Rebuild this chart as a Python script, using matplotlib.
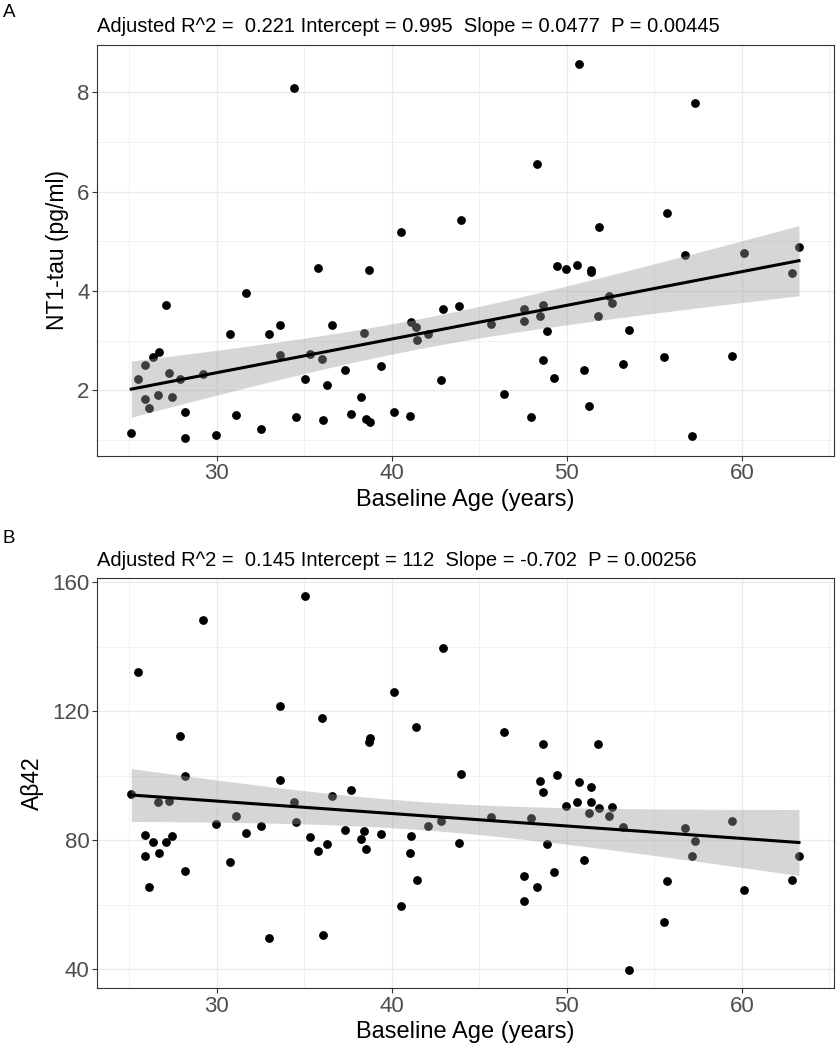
import numpy as np
import matplotlib
matplotlib.use("Agg")
import matplotlib.pyplot as plt
from matplotlib.ticker import MultipleLocator

plt.rcParams["font.family"] = ["Liberation Sans", "DejaVu Sans"]

# baseline age (years), same subjects in both panels
age = [25.12, 25.50, 25.88, 25.90, 26.11, 26.38, 26.66, 26.70, 27.13, 27.29,
       27.46, 27.91, 28.18, 28.18, 29.24, 29.98, 30.76, 31.12, 31.69, 32.56,
       32.98, 33.61, 33.61, 34.42, 34.54, 35.03, 35.31, 35.77, 36.00, 36.07,
       36.30, 36.57, 37.36, 37.65, 38.22, 38.44, 38.52, 38.69, 38.77, 39.37,
       40.13, 40.53, 41.02, 41.12, 41.40, 41.44, 42.05, 42.81, 42.94, 43.87,
       43.95, 45.65, 46.39, 47.57, 47.55, 47.95, 48.31, 48.48, 48.67, 48.67,
       48.90, 49.28, 49.43, 49.96, 50.57, 50.70, 50.99, 51.27, 51.39, 51.41,
       51.81, 51.84, 52.40, 52.60, 53.21, 53.57, 55.57, 55.74, 56.77, 57.15,
       57.32, 59.45, 60.15, 62.89, 63.27]

# NT1-tau (pg/ml)
nt1_tau = [1.15, 2.23, 2.50, 1.82, 1.65, 2.68, 1.90, 2.78, 3.71, 2.34,
           1.87, 2.23, 1.57, 1.05, 2.33, 1.10, 3.13, 1.50, 3.96, 1.22,
           3.13, 3.31, 2.72, 8.09, 1.46, 2.23, 2.74, 4.46, 2.64, 1.40,
           2.11, 3.32, 2.41, 1.53, 1.87, 3.16, 1.43, 4.42, 1.37, 2.48,
           1.56, 5.19, 1.49, 3.37, 3.27, 3.02, 3.13, 2.21, 3.63, 3.70,
           5.42, 3.34, 1.93, 3.63, 3.39, 1.46, 6.55, 3.50, 3.71, 2.62,
           3.19, 2.24, 4.50, 4.44, 4.52, 8.57, 2.40, 1.68, 4.43, 4.39,
           3.49, 5.29, 3.90, 3.75, 2.52, 3.22, 2.68, 5.57, 4.73, 1.08,
           7.78, 2.70, 4.77, 4.37, 4.89]

# Abeta42
ab42 = [94.3, 132.3, 81.7, 75.1, 65.6, 79.4, 91.7, 75.9, 79.6, 92.2,
        81.2, 112.2, 99.9, 70.5, 148.4, 85.0, 73.4, 87.6, 82.2, 84.3,
        49.6, 121.7, 98.7, 91.8, 85.7, 155.8, 80.9, 76.7, 117.8, 50.5,
        78.9, 93.6, 83.3, 95.5, 80.3, 82.9, 77.3, 110.4, 111.6, 81.8,
        125.9, 59.6, 76.1, 81.2, 115.0, 67.7, 84.5, 86.1, 139.5, 79.0,
        100.5, 87.2, 113.7, 68.9, 61.3, 87.0, 65.6, 98.4, 109.9, 94.9,
        78.9, 70.1, 100.2, 90.5, 91.7, 98.0, 73.9, 88.3, 96.5, 91.8,
        109.9, 89.9, 87.6, 90.4, 84.2, 39.7, 54.7, 67.5, 83.8, 75.2,
        79.8, 86.0, 64.6, 67.7, 75.2]

titles = ["Adjusted R^2 =  0.221 Intercept = 0.995  Slope = 0.0477  P = 0.00445",
          "Adjusted R^2 =  0.145 Intercept = 112  Slope = -0.702  P = 0.00256"]
ylabels = ["NT1-tau (pg/ml)", "A\u03b242"]
tags = ["A", "B"]

W, H = 838, 1050
fig = plt.figure(figsize=(W / 100, H / 100), dpi=100)


def box(l, t, r, b):
    return [l / W, 1 - b / H, (r - l) / W, (b - t) / H]


ax_a = fig.add_axes(box(97.3, 45, 834, 455.7))
ax_b = fig.add_axes(box(97.3, 578.3, 834, 988.3))


def smooth(ax, x, y):
    # lm fit with 95% confidence band, like geom_smooth(method = "lm")
    x = np.asarray(x)
    y = np.asarray(y)
    n = len(x)
    b1, b0 = np.polyfit(x, y, 1)
    resid = y - (b0 + b1 * x)
    s = np.sqrt(np.sum(resid ** 2) / (n - 2))
    sxx = np.sum((x - x.mean()) ** 2)
    xs = np.linspace(x.min(), x.max(), 80)
    fit = b0 + b1 * xs
    se = s * np.sqrt(1 / n + (xs - x.mean()) ** 2 / sxx)
    t = 1.989
    ax.fill_between(xs, fit - t * se, fit + t * se, color="#999999",
                    alpha=0.4, lw=0, zorder=3)
    ax.plot(xs, fit, color="black", lw=2.2, zorder=4)


panels = [(ax_a, nt1_tau, (0.684, 8.95), 2, 1),
          (ax_b, ab42, (34.1, 161.2), 40, 20)]

for i, (ax, yv, ylim, major, minor) in enumerate(panels):
    ax.scatter(age, yv, s=40, color="black", lw=0, zorder=2)
    smooth(ax, age, yv)
    ax.set_xlim(23.18, 65.27)
    ax.set_ylim(*ylim)
    ax.xaxis.set_major_locator(MultipleLocator(10))
    ax.xaxis.set_minor_locator(MultipleLocator(5))
    ax.yaxis.set_major_locator(MultipleLocator(major))
    ax.yaxis.set_minor_locator(MultipleLocator(minor))
    ax.grid(which="major", color="#EBEBEB", lw=1.0, zorder=0)
    ax.grid(which="minor", color="#EBEBEB", lw=0.5, zorder=0)
    ax.set_axisbelow(True)
    ax.tick_params(which="major", length=3.5, width=0.8, color="#333333",
                   labelsize=16, labelcolor="#4D4D4D", pad=2)
    ax.tick_params(which="minor", length=0)
    for sp in ax.spines.values():
        sp.set_color("#333333")
        sp.set_linewidth(0.8)
    ax.set_xlabel("Baseline Age (years)", fontsize=17, labelpad=3)
    ax.set_ylabel(ylabels[i], fontsize=16.5, labelpad=6)
    ax.set_title(titles[i], loc="left", fontsize=14.5, pad=9)

fig.text(3 / W, 1 - 17 / H, tags[0], fontsize=13.5)
fig.text(3 / W, 1 - 543 / H, tags[1], fontsize=13.5)

fig.savefig("out.png", dpi=100)
